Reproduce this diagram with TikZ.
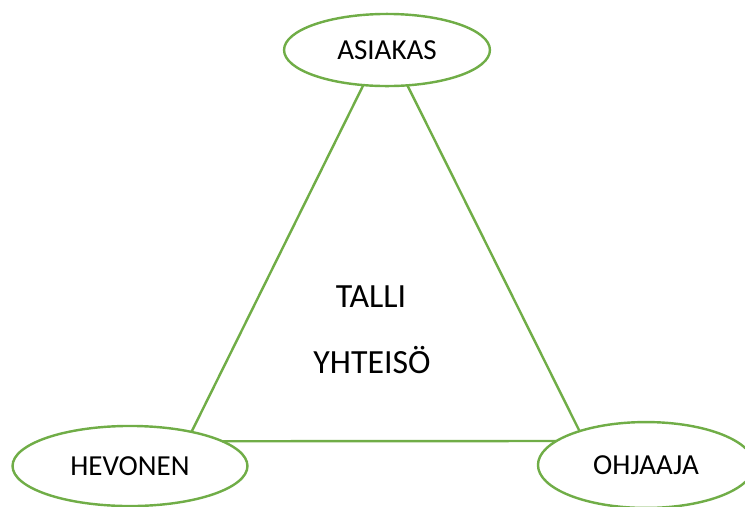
\documentclass[tikz,border=0pt]{standalone}
\usepackage{fontspec}
\setmainfont{Carlito}
\usetikzlibrary{shapes.geometric}
\definecolor{vihrea}{RGB}{112,173,71}
\tikzset{
  osapuoli/.style={ellipse,draw=vihrea,line width=1pt,inner sep=0pt,outer sep=0pt,
    font=\fontsize{12}{14}\selectfont},
  yhteys/.style={draw=vihrea,line width=1pt},
  keskus/.style={anchor=base,inner sep=0pt,font=\fontsize{14}{17}\selectfont}
}
\begin{document}
\begin{tikzpicture}[x=0.4133pt,y=-0.4133pt]
				
				% kehys
				\useasboundingbox (0,0) rectangle (745,506);
				
				% osapuolet
				\node[osapuoli,minimum width=85.1pt,minimum height=29.8pt] (asiakas) at (387,50) {ASIAKAS};
				\node[osapuoli,minimum width=97.1pt,minimum height=33.1pt] (hevonen) at (130,466) {HEVONEN};
				\node[osapuoli,minimum width=89.3pt,minimum height=35.5pt] (ohjaaja) at (646,465) {OHJAAJA};
				
				% kolmio
				\draw[yhteys] (asiakas.236) -- (hevonen.29);
				\draw[yhteys] (asiakas.300) -- (ohjaaja.153);
				\draw[yhteys] (hevonen.15) -- (ohjaaja.165);
				
				% keskella
				\node[keskus] (talli) at (371,307) {TALLI};
				\node[keskus] (yhteiso) at (372,373) {YHTEISÖ};
				
			\end{tikzpicture}
\end{document}
